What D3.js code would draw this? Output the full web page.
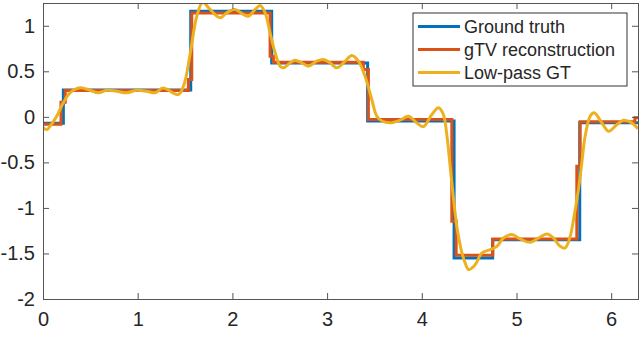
<!DOCTYPE html>
<html>
<head>
<meta charset="utf-8">
<script src="https://d3js.org/d3.v7.min.js"></script>
<style>
  body { margin: 0; background: #fff; }
  svg text { font-family: "Liberation Sans", Arial, Helvetica, sans-serif; fill: #262626; }
</style>
</head>
<body>
<svg id="chart"></svg>
<script>
// ground truth: piecewise constant, edges + level per piece
const gtEdges = [0, 0.215, 1.56, 2.415, 3.428, 4.341, 4.748, 5.668, 6.2832];
const gtValues = [-0.07, 0.295, 1.16, 0.59, -0.045, -1.55, -1.35, -0.065];

// gTV reconstruction (stairs with one intermediate sample at each jump)
const recEdges = [0, 0.19, 0.235, 1.535, 1.571, 2.398, 2.433, 3.383, 3.436, 4.317, 4.363, 4.750, 5.637, 5.672, 6.25, 6.2832];
const recValues = [-0.08, 0.16, 0.29, 0.41, 1.14, 0.666, 0.60, 0.52, -0.03, -1.147, -1.52, -1.34, -0.543, -0.055, -0.01];

// low-pass GT
const lpX = [0, 0.042, 0.074, 0.145, 0.214, 0.285, 0.391, 0.496, 0.584, 0.673, 0.778, 0.884, 0.990, 1.095, 1.183, 1.268, 1.429, 1.489, 1.553,
  1.624, 1.687, 1.764, 1.870, 1.940, 2.028, 2.116, 2.169, 2.240, 2.293, 2.345, 2.398, 2.451, 2.504, 2.538, 2.609, 2.662, 2.733,
  2.802, 2.891, 2.961, 3.032, 3.102, 3.190, 3.261, 3.331, 3.401, 3.472, 3.525, 3.581, 3.665, 3.771, 3.859, 3.947, 4.017, 4.106,
  4.176, 4.228, 4.264, 4.317, 4.370, 4.423, 4.458, 4.493, 4.564, 4.634, 4.722, 4.793, 4.862, 4.951, 5.039, 5.144, 5.232, 5.321,
  5.390, 5.461, 5.514, 5.567, 5.602, 5.654, 5.690, 5.725, 5.778, 5.820, 5.902, 5.972, 6.060, 6.130, 6.219, 6.2832];
const lpY = [-0.12, -0.14, -0.103, 0.007, 0.154, 0.264, 0.319, 0.292, 0.264, 0.292, 0.281, 0.264, 0.292, 0.281, 0.264, 0.316, 0.245, 0.355, 0.685,
  1.105, 1.259, 1.179, 1.088, 1.143, 1.179, 1.124, 1.105, 1.179, 1.223, 1.143, 0.923, 0.703, 0.556, 0.538, 0.593, 0.622, 0.593,
  0.556, 0.611, 0.630, 0.593, 0.538, 0.611, 0.674, 0.611, 0.446, 0.190, 0.007, -0.046, -0.066, -0.037, 0.007, -0.066, -0.107, 0.025,
  0.099, 0.025, -0.195, -0.722, -1.202, -1.491, -1.604, -1.677, -1.623, -1.495, -1.458, -1.422, -1.330, -1.293, -1.341, -1.378, -1.330, -1.286,
  -1.330, -1.422, -1.440, -1.312, -1.129, -0.799, -0.502, -0.213, 0.007, 0.044, -0.066, -0.158, -0.085, -0.037, -0.066, -0.132];

const seriesNames = ["Ground truth", "gTV reconstruction", "Low-pass GT"];
const seriesColors = ["#0072BD", "#D95319", "#EDB120"];
const xTicks = [0, 1, 2, 3, 4, 5, 6];
const yTicks = [-2, -1.5, -1, -0.5, 0, 0.5, 1];

const width = 640, height = 345;
const margins = {top: 3, right: 2, bottom: 46, left: 43};
const chartWidth = width - margins.left - margins.right;
const chartHeight = height - margins.top - margins.bottom;

const svg = d3.select("svg#chart").attr("width", width).attr("height", height);

const scaleX = d3.scaleLinear().domain([0, 6.2832]).range([0, chartWidth]);
const scaleY = d3.scaleLinear().domain([-2, 1.25]).range([chartHeight, 0]);

svg.append("defs").append("clipPath").attr("id", "clip")
   .append("rect").attr("width", chartWidth).attr("height", chartHeight);

const chartArea = svg.append("g").attr("transform", `translate(${margins.left}, ${margins.top})`);
const plot = chartArea.append("g").attr("clip-path", "url(#clip)");

function stairs(edges, values) {
  let pts = values.map((v, i) => [edges[i], v]);
  pts.push([edges[edges.length - 1], values[values.length - 1]]);
  return pts;
}

const stepLine = d3.line().x(d => scaleX(d[0])).y(d => scaleY(d[1])).curve(d3.curveStepAfter);
const smoothLine = d3.line().x(d => scaleX(d[0])).y(d => scaleY(d[1])).curve(d3.curveCatmullRom.alpha(0.5));

plot.append("path").attr("d", stepLine(stairs(gtEdges, gtValues)))
    .attr("fill", "none").attr("stroke", seriesColors[0]).attr("stroke-width", 3);
plot.append("path").attr("d", stepLine(stairs(recEdges, recValues)))
    .attr("fill", "none").attr("stroke", seriesColors[1]).attr("stroke-width", 3);
plot.append("path").attr("d", smoothLine(lpX.map((x, i) => [x, lpY[i]])))
    .attr("fill", "none").attr("stroke", seriesColors[2]).attr("stroke-width", 3);

// axes, MATLAB style: ticks inside, box on
const axisColor = "#262626";
const plainNum = d => String(d);   // hyphen minus like matlab
function styleAxis(g) {
  g.select(".domain").remove();
  g.selectAll(".tick line").attr("stroke", "#555").attr("stroke-width", 1);
  g.selectAll(".tick text").attr("font-size", 20).style("fill", axisColor);
}
chartArea.append("g").attr("transform", `translate(0, ${chartHeight})`)
  .call(d3.axisBottom(scaleX).tickValues(xTicks).tickSizeInner(-6).tickSizeOuter(0).tickPadding(13).tickFormat(plainNum))
  .call(styleAxis);
chartArea.append("g")
  .call(d3.axisTop(scaleX).tickValues(xTicks).tickSizeInner(-6).tickSizeOuter(0).tickFormat(""))
  .call(styleAxis);
chartArea.append("g")
  .call(d3.axisLeft(scaleY).tickValues(yTicks).tickSizeInner(-6).tickSizeOuter(0).tickPadding(8).tickFormat(plainNum))
  .call(styleAxis);
chartArea.append("g").attr("transform", `translate(${chartWidth}, 0)`)
  .call(d3.axisRight(scaleY).tickValues(yTicks).tickSizeInner(-6).tickSizeOuter(0).tickFormat(""))
  .call(styleAxis);
chartArea.append("rect").attr("width", chartWidth).attr("height", chartHeight)
  .attr("fill", "none").attr("stroke", "#555").attr("stroke-width", 1).attr("shape-rendering", "crispEdges");

// legend
const legend = svg.append("g").attr("transform", "translate(413, 13)");
legend.append("rect").attr("width", 214).attr("height", 73)
  .attr("fill", "#fff").attr("stroke", "#333").attr("stroke-width", 1);
const rows = legend.selectAll("g.row").data(seriesNames).join("g")
  .attr("class", "row").attr("transform", (d, i) => `translate(0, ${13.5 + i * 23})`);
rows.append("line").attr("x1", 5).attr("x2", 47)
  .attr("stroke", (d, i) => seriesColors[i]).attr("stroke-width", 3);
rows.append("text").attr("x", 51).attr("dy", "0.35em").attr("font-size", 18).text(d => d);
</script>
</body>
</html>
